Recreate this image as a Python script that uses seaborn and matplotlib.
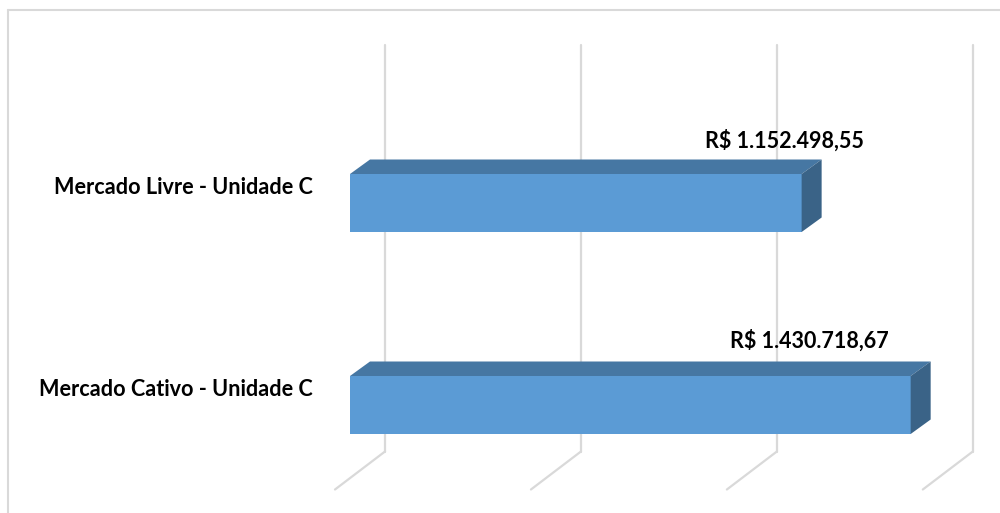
import matplotlib
matplotlib.use("Agg")
import matplotlib.pyplot as plt
import seaborn as sns
import pandas as pd
from matplotlib.patches import Polygon
from matplotlib.lines import Line2D
from matplotlib.transforms import IdentityTransform

# ---- data ----
categories = ["Mercado Livre - Unidade C", "Mercado Cativo - Unidade C"]
values = [1152498.55, 1430718.67]
value_labels = ["R$ 1.152.498,55", "R$ 1.430.718,67"]
grid_ticks = [0, 500000, 1000000, 1500000]

df = pd.DataFrame({"categoria": categories, "valor": values})

# ---- style ----
sns.set_theme(style="white")
plt.rcParams["font.family"] = ["Lato", "DejaVu Sans"]

W, H = 1000, 513
FRONT = "#5B9BD5"
TOP = "#4677A3"
SIDE = "#3A6387"
GRID = "#D9D9D9"

fig = plt.figure(figsize=(W / 100, H / 100), dpi=100)
fig.patch.set_facecolor("white")
# axes: value 0 at x=350px, category centres at y=203px and 405px (image coords)
ax = fig.add_axes([350 / W, (H - 506) / H, 627 / W, 404 / H])
ax.set_facecolor("none")

bar_h = 58 / 202
sns.barplot(data=df, y="categoria", x="valor", orient="h", color=FRONT,
            saturation=1, width=bar_h, ax=ax, zorder=3, linewidth=0)
ax.set_xlim(0, 1.6e6)
ax.set_ylim(1.5, -0.5)
ax.set_xlabel("")
ax.set_ylabel("")
ax.set_xticks([])
ax.set_yticks([])
for s in ax.spines.values():
    s.set_visible(False)

# depth offsets in pixels (display coords, y up)
BAR_D = (20, 14.5)      # bar depth
WALL_D = (35, 26.5)     # back wall relative to bar front plane
FLOOR_F = (-15, -11.5)  # floor front edge relative to bar front plane
floor_back_y = H - 451.5
wall_top_y = H - 45

ident = IdentityTransform()

# gridlines: back wall verticals + floor diagonals
for t in grid_ticks:
    x0, _ = ax.transData.transform((t, 0))
    xb = x0 + WALL_D[0]
    fig.add_artist(Line2D([xb, xb], [floor_back_y, wall_top_y], transform=ident,
                          color=GRID, lw=1.6, zorder=0))
    fig.add_artist(Line2D([xb, x0 + FLOOR_F[0]],
                          [floor_back_y, floor_back_y - (WALL_D[1] - FLOOR_F[1])],
                          transform=ident, color=GRID, lw=1.6, zorder=0))

# 3D faces of the bars
for i, v in enumerate(values):
    (xl, yt) = ax.transData.transform((0, i - bar_h / 2))
    (xr, yb) = ax.transData.transform((v, i + bar_h / 2))
    dx, dy = BAR_D
    top = Polygon([(xl, yt), (xr, yt), (xr + dx, yt + dy), (xl + dx, yt + dy)],
                  closed=True, transform=ident, facecolor=TOP, edgecolor="none",
                  zorder=3)
    side = Polygon([(xr, yt), (xr, yb), (xr + dx, yb + dy), (xr + dx, yt + dy)],
                   closed=True, transform=ident, facecolor=SIDE, edgecolor="none",
                   zorder=3)
    ax.add_patch(top)
    ax.add_patch(side)
    top.set_clip_on(False)
    side.set_clip_on(False)

# value labels (positioned relative to the bar's front top-right corner)
label_offsets = [(-17.5, 33.5), (-101.7, 35.3)]
for i, (v, lab) in enumerate(zip(values, value_labels)):
    ax.annotate(lab, xy=(v, i - bar_h / 2), xytext=label_offsets[i],
                textcoords="offset pixels", ha="center", va="center",
                fontsize=15.5, fontweight="bold", color="black",
                annotation_clip=False, zorder=5)

# category labels
for i, c in enumerate(categories):
    ax.annotate(c, xy=(0, i), xytext=(-37, 16), textcoords="offset pixels",
                ha="right", va="center", fontsize=15.6, fontweight="bold",
                color="black", annotation_clip=False)

# outer chart frame (left and top edges visible)
fig.add_artist(Line2D([8, 8], [0, H - 10], transform=ident, color=GRID, lw=1.5))
fig.add_artist(Line2D([8, W], [H - 10, H - 10], transform=ident, color=GRID, lw=1.5))

fig.savefig("out.png", dpi=100, facecolor="white")
